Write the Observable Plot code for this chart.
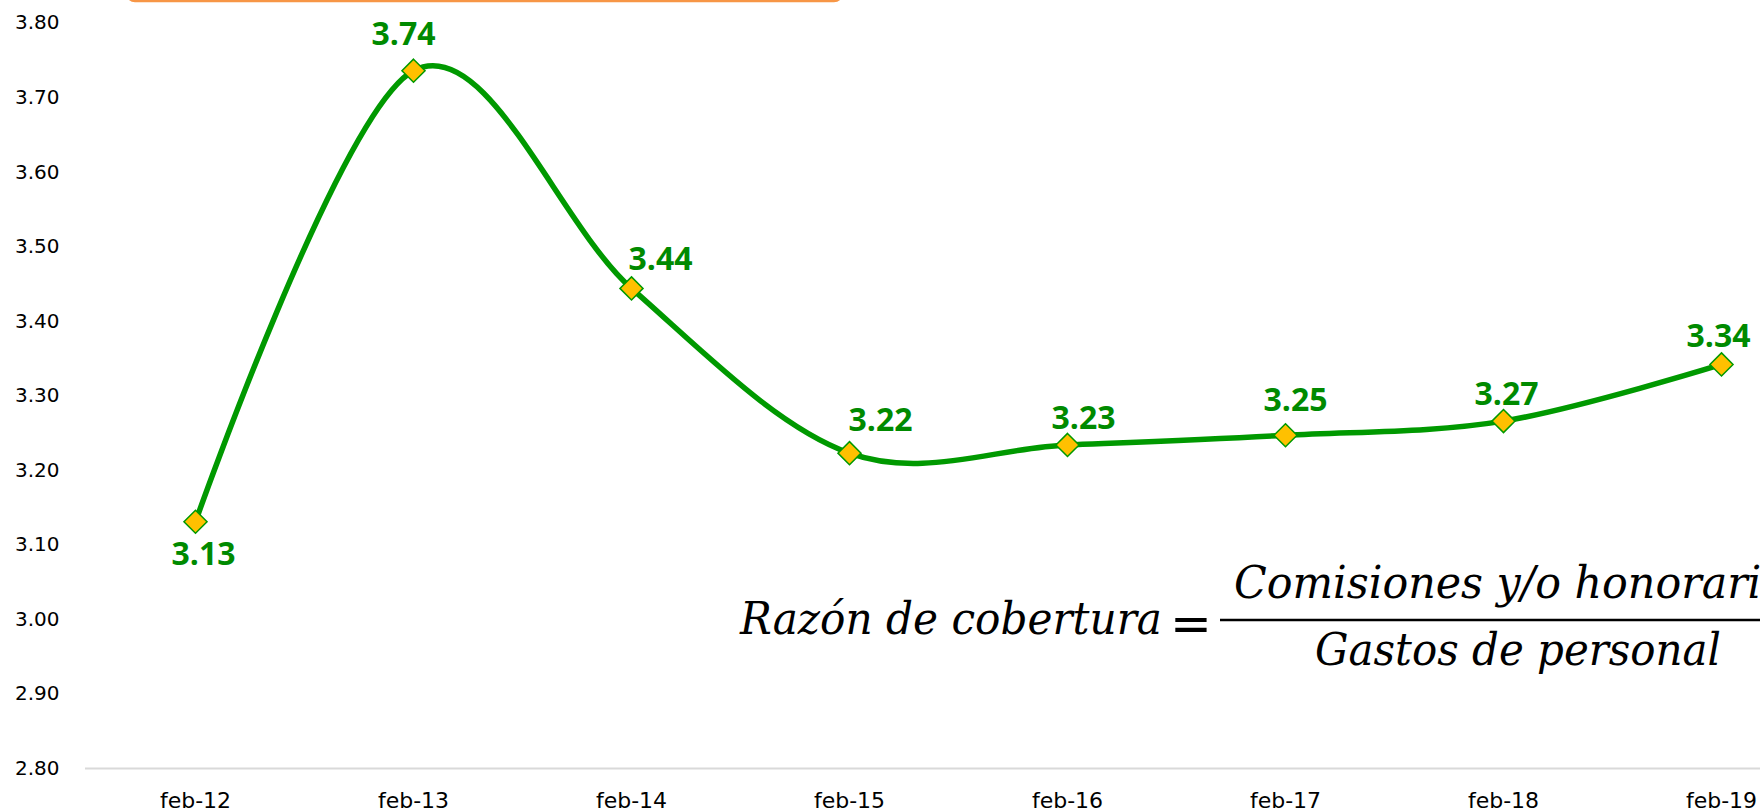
<!DOCTYPE html>
<html>
<head>
<meta charset="utf-8">
<script src="https://cdn.jsdelivr.net/npm/d3@7"></script>
<script src="https://cdn.jsdelivr.net/npm/@observablehq/plot@0.6"></script>
<style>
  html, body { margin: 0; padding: 0; background: #ffffff; overflow: hidden; }
  #chart { position: relative; width: 1760px; height: 812px; overflow: hidden; }
</style>
</head>
<body>
<div id="chart"></div>
<script>
// ---- data ----
const months = ["feb-12", "feb-13", "feb-14", "feb-15", "feb-16", "feb-17", "feb-18", "feb-19"];
const values = [3.131, 3.736, 3.444, 3.223, 3.234, 3.247, 3.266, 3.342];
const yTicks = [2.80, 2.90, 3.00, 3.10, 3.20, 3.30, 3.40, 3.50, 3.60, 3.70, 3.80];
const formulaLeft = "Razón de cobertura";
const formulaNumerator = "Comisiones y/o honorarios";
const formulaDenominator = "Gastos de personal";

// label offsets (manually placed labels, as in the original)
const labelDx = [8, -10, 29, 31, 16, 10, 3, -3];
const labelDy = [33, -36, -29, -32, -26, -35, -26, -28];

const data = months.map((m, i) => ({ month: m, value: values[i] }));
const fmt = d3.format(".2f");
const green = "#009900";
const labelGreen = "#008A00";

const plot = Plot.plot({
  width: 1760,
  height: 812,
  marginLeft: 85,
  marginRight: 0,
  marginTop: 22.5,
  marginBottom: 44,
  style: { background: "#ffffff", fontFamily: "DejaVu Sans", color: "#000" },
  x: { type: "point", domain: months, range: [194, 1722], padding: 0 },
  y: { domain: [2.8, 3.8] },
  marks: [
    Plot.ruleY([2.8], { stroke: "#D9D9D9", strokeWidth: 2 }),
    Plot.axisY({ ticks: yTicks, tickFormat: fmt, tickSize: 0, tickPadding: 26, fontSize: 20, fontFamily: "DejaVu Sans", fill: "#000", label: null }),
    Plot.axisX({ tickSize: 0, tickPadding: 24, fontSize: 22, fontFamily: "DejaVu Sans", fill: "#000", label: null }),
    Plot.line(data, { x: "month", y: "value", curve: "cardinal", stroke: green, strokeWidth: 5.5 }),
    Plot.dot(data, { x: "month", y: "value", symbol: "diamond2", r: 10.4, fill: "#FFC000", stroke: green, strokeWidth: 1.5 }),
    ...data.map((d, i) => Plot.text([d], {
      x: "month", y: "value", text: (e) => fmt(e.value),
      dx: labelDx[i], dy: labelDy[i],
      fill: labelGreen, fontSize: 32, fontWeight: "bold", fontFamily: "Open Sans"
    }))
  ]
});

document.getElementById("chart").appendChild(plot);

// ---- annotations: orange shape edge at top and formula ----
const svg = d3.select(plot);
svg.append("rect")
  .attr("x", 127).attr("y", -30).attr("width", 715).attr("height", 31)
  .attr("rx", 8).attr("ry", 8)
  .attr("fill", "none").attr("stroke", "#F79646").attr("stroke-width", 2.5);

const f = svg.append("g")
  .attr("font-family", "DejaVu Serif")
  .attr("font-style", "italic")
  .attr("font-size", 44)
  .attr("text-anchor", "start")
  .attr("fill", "#000");

f.append("text").attr("x", 740).attr("y", 634)
  .attr("textLength", 422).attr("lengthAdjust", "spacingAndGlyphs")
  .text(formulaLeft);
f.append("text").attr("x", 1191).attr("y", 641)
  .attr("text-anchor", "middle").attr("font-style", "normal")
  .attr("font-family", "DejaVu Sans").attr("font-size", 50)
  .text("=");
f.append("line").attr("x1", 1220).attr("x2", 1830).attr("y1", 620).attr("y2", 620)
  .attr("stroke", "#000").attr("stroke-width", 2.5);
f.append("text").attr("x", 1234).attr("y", 598)
  .attr("textLength", 575).attr("lengthAdjust", "spacingAndGlyphs")
  .text(formulaNumerator);
f.append("text").attr("x", 1315).attr("y", 665)
  .attr("textLength", 406).attr("lengthAdjust", "spacingAndGlyphs")
  .text(formulaDenominator);
</script>
</body>
</html>
